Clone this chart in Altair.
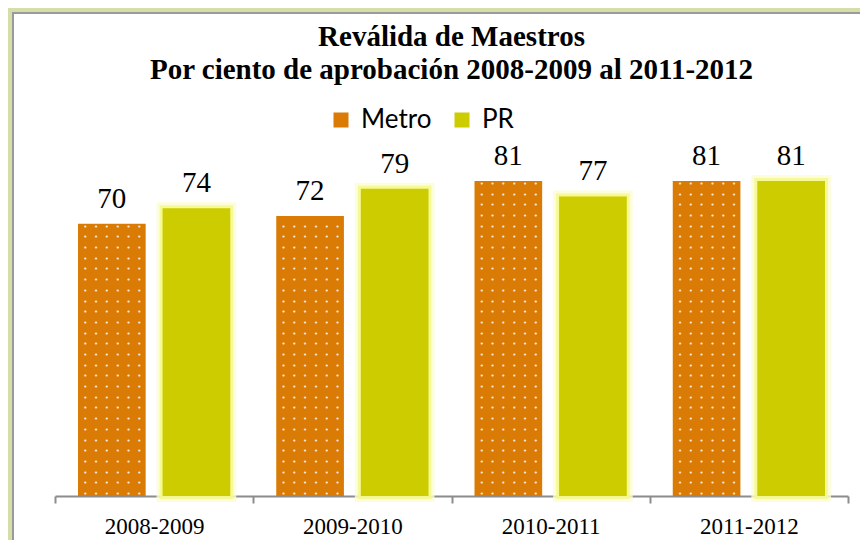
import altair as alt
import pandas as pd

# ---- data ----
years = ["2008-2009", "2009-2010", "2010-2011", "2011-2012"]
series = ["Metro", "PR"]
metro = [70, 72, 81, 81]
pr = [74, 79, 77, 81]
colors = ["#D97B05", "#CCCC00"]
title_lines = ["Reválida de Maestros", "Por ciento de aprobación 2008-2009 al 2011-2012"]

rows = []
for yr, m, p in zip(years, metro, pr):
    rows.append({"year": yr, "series": "Metro", "value": m})
    rows.append({"year": yr, "series": "PR", "value": p})
df = pd.DataFrame(rows)

# dotted fill pattern rows for the Metro bars (decoration, follows each bar's value)
dot_rows = []
for yr, m in zip(years, metro):
    v = 0.5
    while v < m - 0.3:
        dot_rows.append({"year": yr, "series": "Metro", "value": v})
        v += 2.75
dots_df = pd.DataFrame(dot_rows)
dot_dx = [-26.5, -15.7, -4.9, 5.9, 16.7, 27.5]

one = pd.DataFrame({"t": ["\n".join(title_lines)]})

W, H = 793, 389

x_enc = alt.X(
    "year:N", sort=years,
    scale=alt.Scale(paddingInner=0, paddingOuter=0),
    axis=alt.Axis(title=None, labelAngle=0, labelFont="Liberation Serif", labelFontSize=23,
                  labelColor="black", domainColor="#8C8C8C", domainWidth=2,
                  tickColor="#8C8C8C", tickWidth=2, tickSize=7, tickBand="extent",
                  labelPadding=12, grid=False),
)
xo_enc = alt.XOffset("series:N", sort=series, scale=alt.Scale(paddingInner=0.2, paddingOuter=0.272))
y_enc = alt.Y("value:Q", scale=alt.Scale(domain=[0, 100]), axis=None)

base = alt.Chart(df)

glow_outer = base.transform_filter("datum.series == 'PR'").mark_bar(
    color="#CCCC00", stroke="#FCFDD2", strokeWidth=12, strokeOpacity=0.8
).encode(x=x_enc, xOffset=xo_enc, y=y_enc)

glow_inner = base.transform_filter("datum.series == 'PR'").mark_bar(
    color="#CCCC00", stroke="#F5F890", strokeWidth=6, strokeOpacity=0.9
).encode(x=x_enc, xOffset=xo_enc, y=y_enc)

bars = base.mark_bar().encode(
    x=x_enc, xOffset=xo_enc, y=y_enc,
    color=alt.Color("series:N", scale=alt.Scale(domain=series, range=colors),
                    legend=alt.Legend(title=None, orient="none", direction="horizontal",
                                      legendX=273, legendY=0, symbolType="square",
                                      symbolSize=225, symbolStrokeWidth=0,
                                      labelFont="Lato", labelFontSize=26, labelColor="black",
                                      labelOffset=7, columnPadding=17, padding=0)),
)

dot_layers = [
    alt.Chart(dots_df).mark_text(text="•", dx=d, font="DejaVu Sans", fontSize=7,
                                 baseline="middle", color="white", opacity=0.85).encode(
        x=x_enc, xOffset=xo_enc, y=y_enc)
    for d in dot_dx
]

labels = base.mark_text(font="Liberation Serif", fontSize=29, baseline="alphabetic",
                        dy=-16, color="black").encode(
    x=x_enc, xOffset=xo_enc, y=y_enc, text="value:Q")

title = alt.Chart(one).mark_text(font="Liberation Serif", fontSize=29, fontWeight="bold",
                                 lineBreak="\n", lineHeight=33, baseline="alphabetic",
                                 align="center", color="black").encode(
    x=alt.value(W / 2), y=alt.value(-61), text="t:N")

frame_src = alt.Chart(pd.DataFrame({"a": [0]}))
shadow_left = frame_src.mark_rule(color="#D5DDA8", strokeWidth=4).encode(
    x=alt.value(-45), y=alt.value(-99), y2=alt.value(H + 44))
shadow_top = frame_src.mark_rule(color="#D5DDA8", strokeWidth=4).encode(
    y=alt.value(-97), x=alt.value(-47), x2=alt.value(W + 12))
border_left = frame_src.mark_rule(color="#9A9A9A", strokeWidth=2).encode(
    x=alt.value(-42), y=alt.value(-94), y2=alt.value(H + 44))
border_top = frame_src.mark_rule(color="#9A9A9A", strokeWidth=2).encode(
    y=alt.value(-94), x=alt.value(-43), x2=alt.value(W + 12))

chart = alt.layer(
    shadow_left, shadow_top, border_left, border_top,
    glow_outer, glow_inner, bars, *dot_layers, labels, title
).properties(
    width=W, height=H,
    padding={"left": 47, "top": 99, "right": 12, "bottom": 44},
    autosize=alt.AutoSizeParams(type="none"),
    background="white",
).configure_view(stroke=None)

chart.save("out.html", embed_options={"renderer": "svg", "actions": False})
